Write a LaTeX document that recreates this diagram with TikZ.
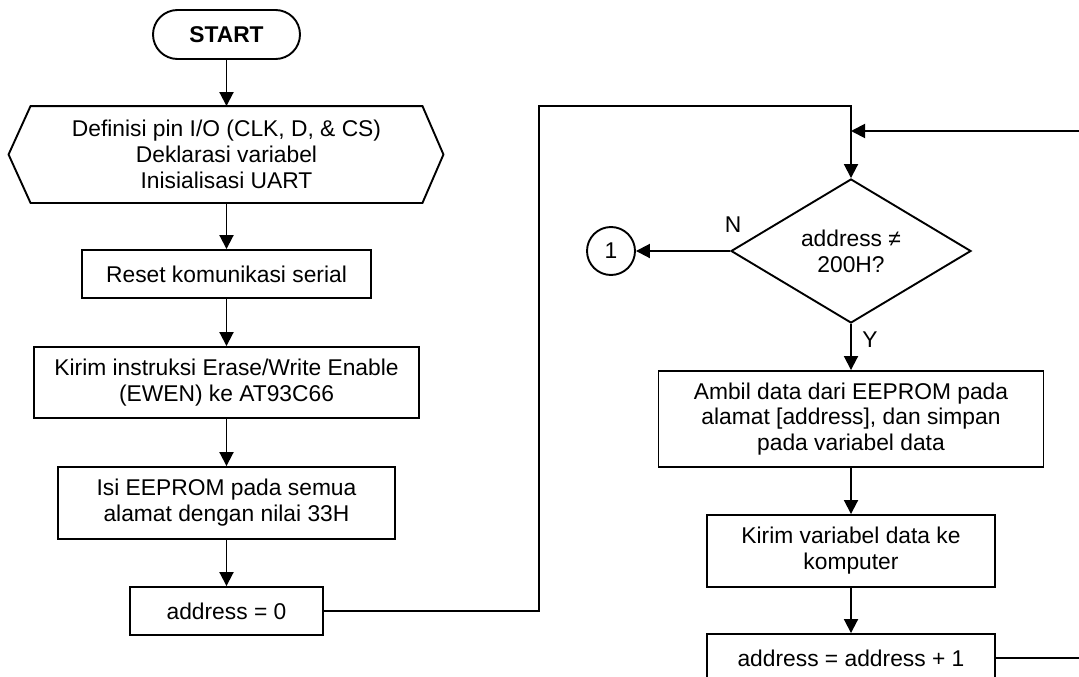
\documentclass[tikz,border=0pt]{standalone}
\usepackage{fontspec}
\setmainfont{Liberation Sans}
\usetikzlibrary{arrows.meta,shapes.geometric}

\begin{document}
\begin{tikzpicture}[x=1pt,y=-1pt,
  box/.style={draw,line width=1.9pt,inner sep=0pt,align=center,font=\fontsize{22.8}{25.8}\selectfont},
  line/.style={line width=1.9pt},
  arr/.style={line width=1.9pt,-{Triangle[length=14pt,width=14pt]}}]
%\draw[help lines] (0,0) grid[step=50] (1079,677);
\useasboundingbox (0,0) rectangle (1079,677);
\clip (0,0) rectangle (1079,677);

\node[box,rounded corners=24.5pt,minimum width=147pt,minimum height=49pt,font=\fontsize{22.8}{25.8}\selectfont\bfseries] (start) at (226.5,34.5) {START};
\node[box,draw=none,minimum width=390pt,minimum height=95pt] (init) at (226.5,154.5) {Definisi pin I/O (CLK, D, \& CS)\\Deklarasi variabel\\Inisialisasi UART};
\draw[line] (init.north west) -- (init.north east) -- ([xshift=21pt]init.east) -- (init.south east) -- (init.south west) -- ([xshift=-22pt]init.west) -- cycle;
\node[box,minimum width=289pt,minimum height=48pt] (reset) at (226.5,274) {Reset komunikasi serial};
\node[box,minimum width=385pt,minimum height=71pt] (ewen) at (226.5,382.5) {Kirim instruksi Erase/Write Enable\\(EWEN) ke AT93C66};
\node[box,minimum width=337pt,minimum height=72pt] (fill) at (226.5,503) {Isi EEPROM pada semua\\alamat dengan nilai 33H};
\node[box,minimum width=193pt,minimum height=48pt] (addr0) at (226.5,611) {address = 0};

\node[box,diamond,aspect=1.667,minimum width=240pt,minimum height=144pt] (cek) at (851,251) {address ≠\\200H?};
\node[box,circle,minimum size=48pt] (hub) at (611,251) {1};
\node[box,minimum width=385pt,minimum height=96pt] (read) at (851,419) {Ambil data dari EEPROM pada\\alamat [address], dan simpan\\pada variabel data};
\node[box,minimum width=288pt,minimum height=72pt] (send) at (851,551) {Kirim variabel data ke\\komputer};
\node[box,minimum width=288pt,minimum height=48pt] (inc) at (851,658) {address = address + 1};

\node[box,draw=none] (nlbl) at (733,225) {N};
\node[box,draw=none] (ylbl) at (870,340) {Y};

\coordinate (bendL) at (539,106);
\coordinate (bendR) at (1095,131);

\draw[arr] (start) -- (init);
\draw[arr] (init) -- (reset);
\draw[arr] (reset) -- (ewen);
\draw[arr] (ewen) -- (fill);
\draw[arr] (fill) -- (addr0);
\draw[arr] (addr0.east) -| (bendL) -| (cek.north);
\draw[arr] (cek.west) -- (hub.east);
\draw[arr] (cek.south) -- (read.north);
\draw[arr] (read) -- (send);
\draw[arr] (send) -- (inc);
\draw[arr] (inc.east) -| (bendR) -- (bendR -| cek.north);
\end{tikzpicture}
\end{document}
